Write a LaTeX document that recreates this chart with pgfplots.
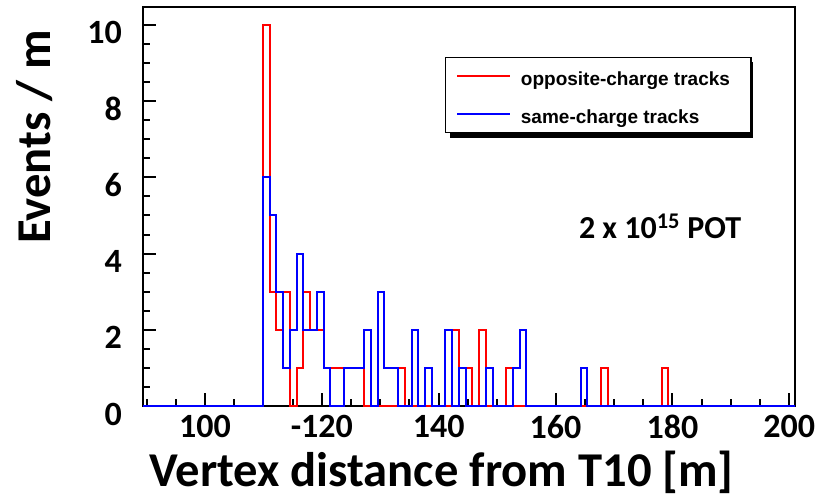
\documentclass[border=0pt]{standalone}
\usepackage{fontspec}
\setmainfont{Carlito}
\newfontfamily\legfont{Liberation Sans}
\usepackage{pgfplots}
\pgfplotsset{compat=1.18}
\pgfplotsset{
  histline/.style={const plot, line width=2pt},
}

\begin{document}
\begin{tikzpicture}[x=1pt,y=1pt]
\useasboundingbox (0,0) rectangle (819,500);
% x runs in bin units: bin k has its left edge at k
\begin{axis}[
  at={(143pt,94pt)}, anchor=south west,
  scale only axis, width=652pt, height=399pt,
  xmin=-17.72, xmax=78.72, ymin=0, ymax=10.47,
  clip=false,
  axis line style={line width=2.2pt},
  tick pos=left, tick align=inside,
  major tick length=13pt, minor tick length=7pt,
  every tick/.style={black, line width=2pt},
  xtick={-8.55,8.734,26.018,43.302,60.586,77.87},
  xticklabels={100,-120,140,160,180,200},
  minor xtick={-17.192,-12.871,-4.229,0.092,4.413,13.055,17.376,21.697,30.339,34.66,38.981,47.623,51.944,56.265,64.907,69.228,73.549},
  ytick={0,2,4,6,8,10},
  minor ytick={0.5,1,1.5,2.5,3,3.5,4.5,5,5.5,6.5,7,7.5,8.5,9,9.5,10.5},
  /pgf/number format/assume math mode=true,
  ticklabel style={font=\bfseries\fontsize{34}{34}\selectfont},
  xticklabel style={inner sep=0pt, yshift=-9pt},
  yticklabel style={inner sep=0pt, xshift=-21pt, yshift=-8pt},
  xlabel={Vertex distance from T10 [m]},
  ylabel={Events / m},
  label style={font=\bfseries\fontsize{48.6}{48.6}\selectfont},
  xlabel style={at={(axis description cs:0.458,0)}, anchor=base, yshift=-81pt},
  ylabel style={at={(axis description cs:-0.1426,0.675)}, anchor=base},
  legend style={at={(0.463,0.875)}, anchor=north west, draw=black, line width=1.5pt,
    fill=white, inner xsep=11pt, inner ysep=5pt, row sep=11pt, column sep=10pt,
    nodes={inner sep=0pt, text height=23pt, text depth=4pt},
    font=\legfont\bfseries\fontsize{19}{19}\selectfont},
  legend cell align=left,
  legend image code/.code={\draw[#1, sharp plot, line width=1.3pt] (0pt,0pt) -- (53pt,0pt);},
]
\addplot[histline, color={rgb,255:red,255;green,0;blue,0}] coordinates {
(-17.72,0) (0,10) (1,3) (2,2) (3,3) (4,0) (5,1) (6,3) (7,2) (8,2) (9,1)
(10,1) (11,1) (12,1) (13,1) (14,1) (15,0) (16,0) (17,0) (18,0) (19,0)
(20,1) (21,0) (22,0) (23,0) (24,0) (25,0) (26,0) (27,0) (28,2) (29,1)
(30,1) (31,0) (32,2) (33,0) (34,0) (35,0) (36,1) (37,0) (38,0) (39,0)
(40,0) (41,0) (42,0) (43,0) (44,0) (45,0) (46,0) (47,0) (48,0) (49,0)
(50,1) (51,0) (52,0) (53,0) (54,0) (55,0) (56,0) (57,0) (58,0) (59,1)
(60,0) (78.72,0)};
\addlegendentry{opposite-charge tracks\hspace*{10pt}}
\addplot[histline, color={rgb,255:red,0;green,0;blue,255}] coordinates {
(-17.72,0) (0,6) (1,5) (2,3) (3,1) (4,2) (5,4) (6,2) (7,2) (8,3) (9,1)
(10,0) (11,0) (12,1) (13,1) (14,1) (15,2) (16,0) (17,3) (18,1) (19,1)
(20,0) (21,0) (22,2) (23,0) (24,1) (25,0) (26,0) (27,2) (28,0) (29,1)
(30,0) (31,0) (32,0) (33,1) (34,0) (35,0) (36,0) (37,1) (38,2) (39,0)
(40,0) (41,0) (42,0) (43,0) (44,0) (45,0) (46,0) (47,1) (48,0) (49,0)
(50,0) (78.72,0)};
\addlegendentry{same-charge tracks}
% legend drop shadow (drawn before the legend, so it sits behind it)
\fill[black] (rel axis cs:0.4709,0.6717) rectangle (rel axis cs:0.9356,0.8622);
\node[anchor=base, font=\bfseries\fontsize{32}{32}\selectfont] at (rel axis cs:0.793,0.421) {2 x 10\textsuperscript{15} POT};
\end{axis}
\end{tikzpicture}
\end{document}
